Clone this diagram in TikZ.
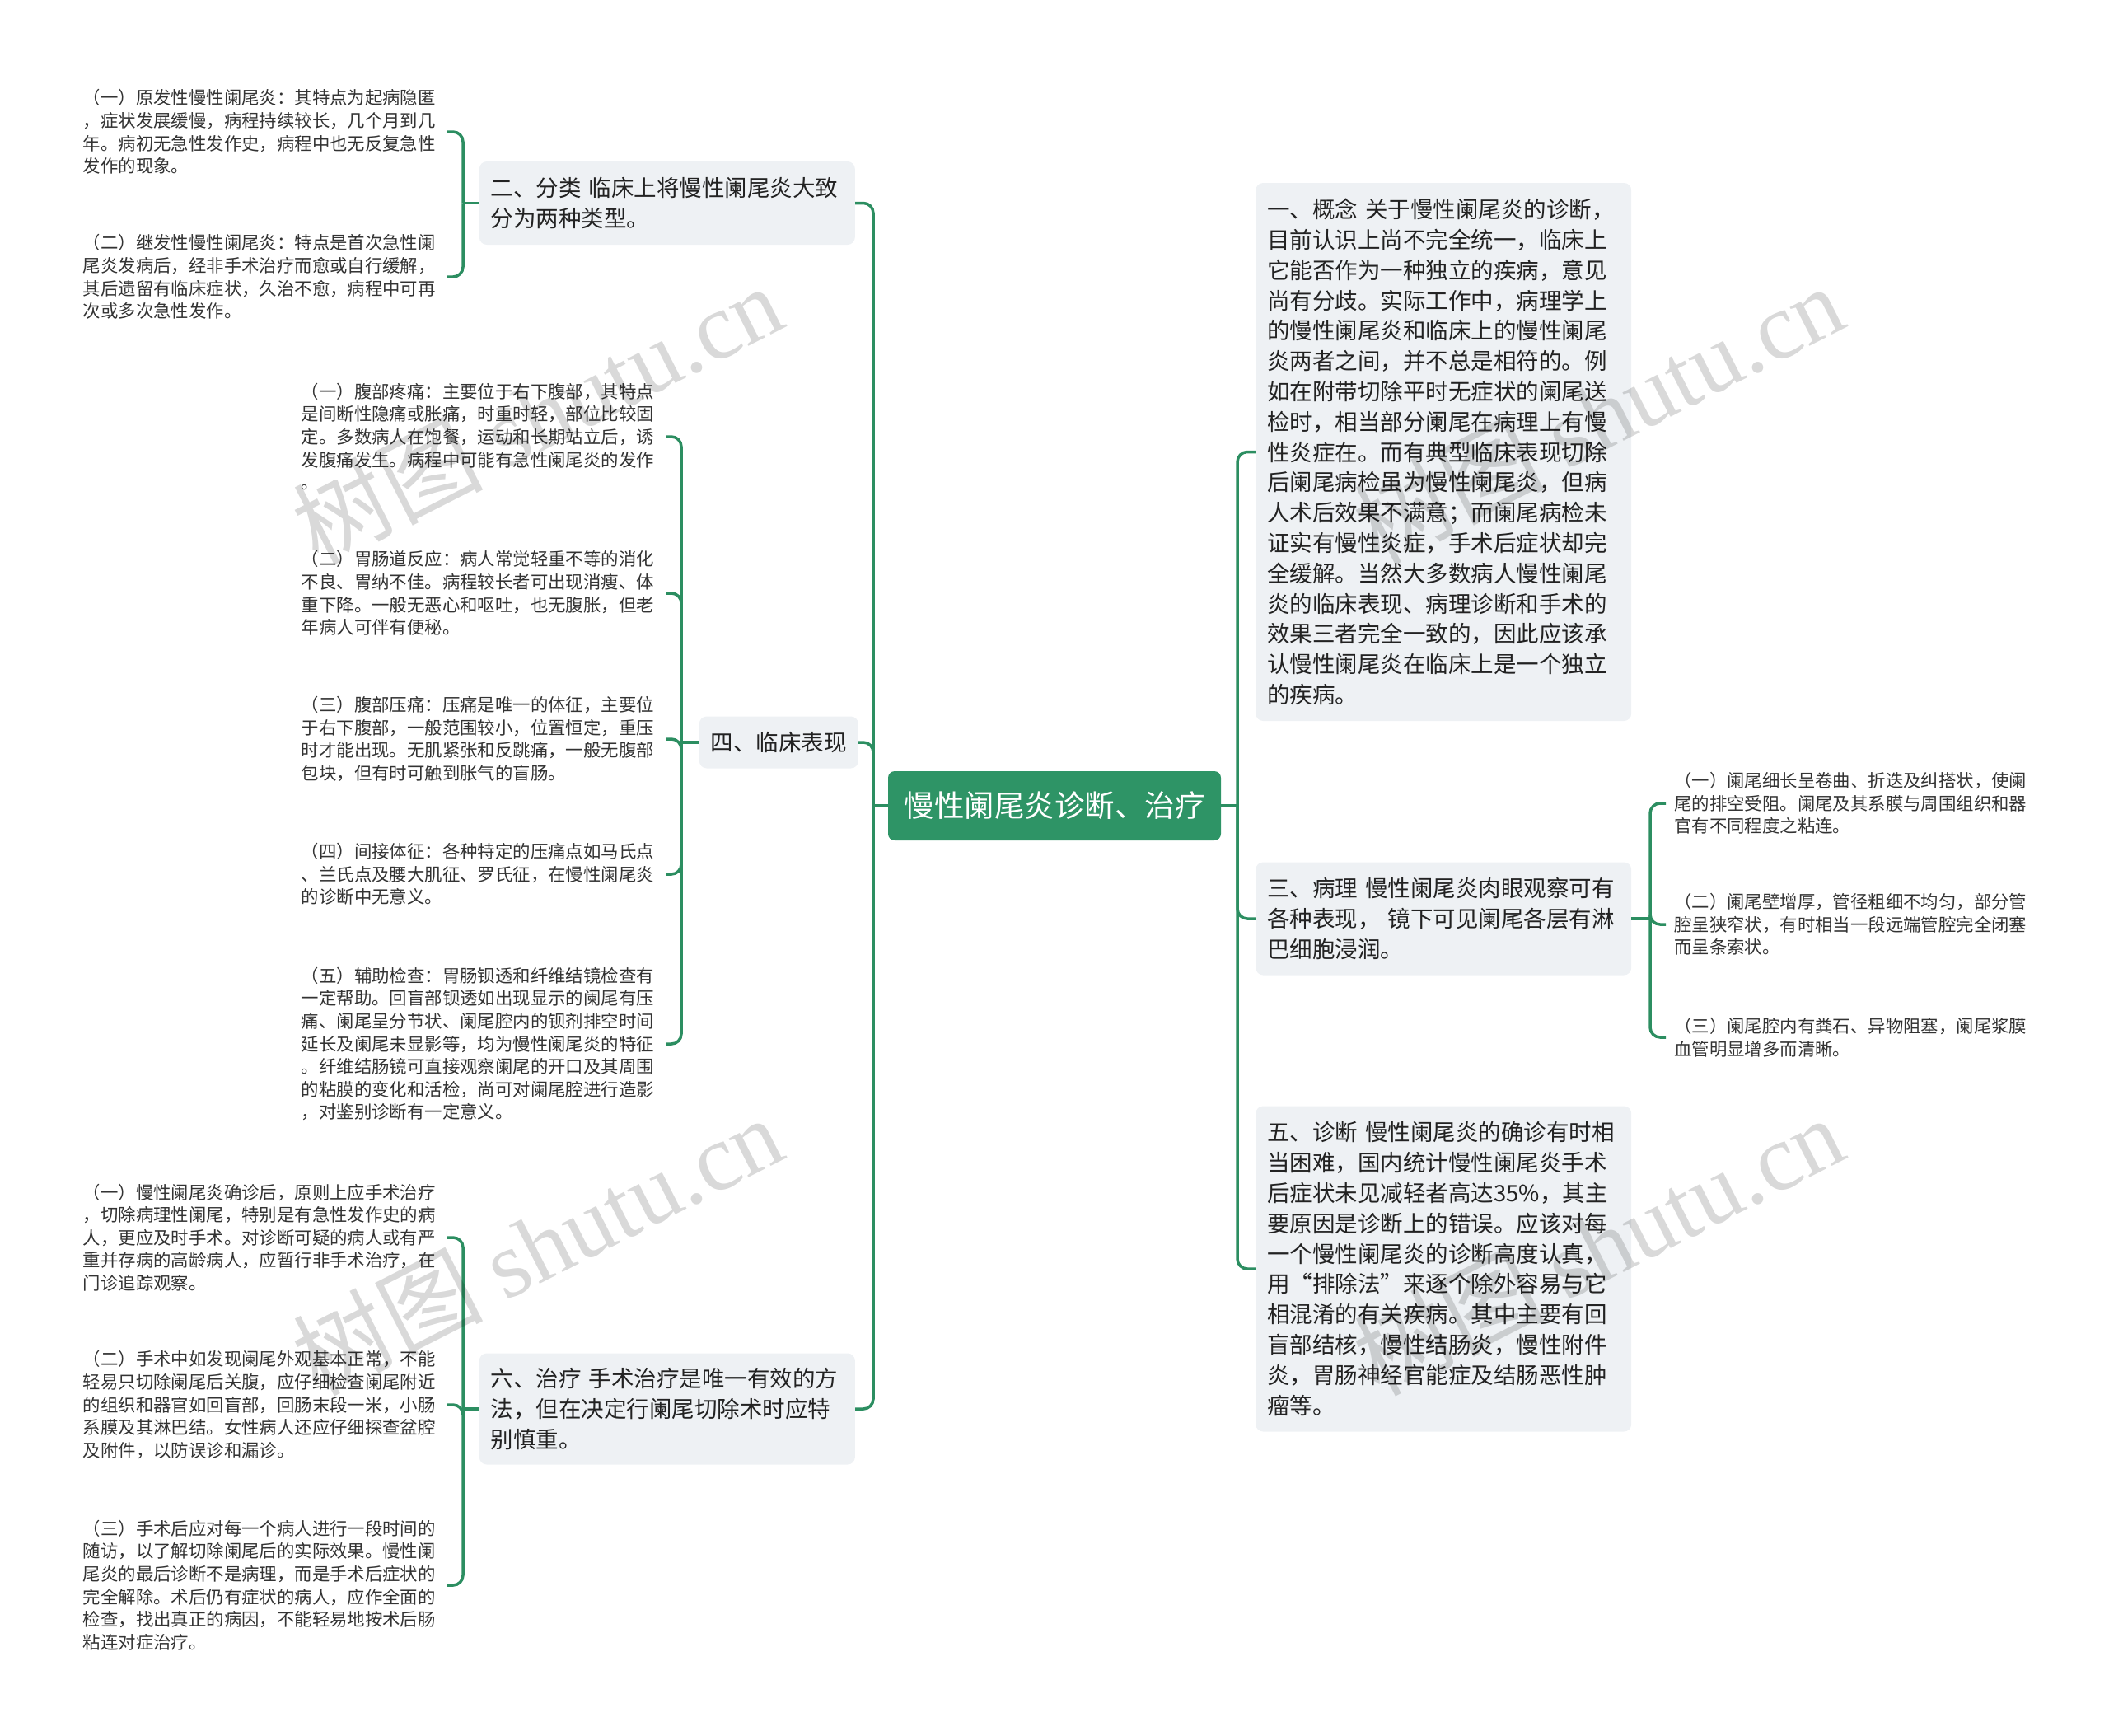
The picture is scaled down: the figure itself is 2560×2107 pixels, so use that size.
\documentclass[tikz,border=0pt]{standalone}
\usepackage{fontspec}
\setmainfont{Noto Sans CJK SC}
\newfontfamily\wmserif{Liberation Serif}
\newfontfamily\wmsans{Noto Sans CJK SC}
\definecolor{linegreen}{RGB}{44,142,97}
\definecolor{rootgreen}{RGB}{46,148,102}
\definecolor{boxgray}{RGB}{238,241,244}
\definecolor{maintext}{RGB}{34,34,34}
\definecolor{leaftext}{RGB}{51,51,51}
\tikzset{
  conn/.style={draw=linegreen, line width=3.5pt, rounded corners=12pt},
  rootbox/.style={fill=rootgreen, rounded corners=8pt, text=white, font=\fontsize{36.5}{44}\selectfont, minimum width=404pt, minimum height=84pt, inner sep=0pt},
  mainbox/.style={fill=boxgray, rounded corners=9pt, text=maintext, font=\fontsize{27.5}{36.8}\selectfont, align=left, inner xsep=14pt, inner ysep=0pt},
  widebox/.style={mainbox, text width=428pt},
  leaf/.style={text=leaftext, font=\fontsize{21.4}{27.6}\selectfont, align=left, text width=432pt, inner xsep=10pt, inner ysep=3pt},
  wmark/.style={text=black, text opacity=0.15, rotate=27, inner sep=0pt},
}
\begin{document}
\begin{tikzpicture}[x=1pt,y=-1pt]
\useasboundingbox (0,0) rectangle (2560,2107);

% root
\node[rootbox] (root) at (1280,978) {慢性阑尾炎诊断、治疗};

% left main nodes
\node[widebox, minimum height=101pt, anchor=east] (b2) at (1038,246.5) {二、分类 临床上将慢性阑尾炎大致\\分为两种类型。};
\node[mainbox, minimum height=63pt, anchor=east] (b4) at (1042,901) {四、临床表现};
\node[widebox, minimum height=135pt, anchor=east] (b6) at (1038,1710) {六、治疗 手术治疗是唯一有效的方\\法，但在决定行阑尾切除术时应特\\别慎重。};

% right main nodes
\node[widebox, minimum height=653pt, anchor=west] (n1) at (1524,548.5) {一、概念 关于慢性阑尾炎的诊断，\\目前认识上尚不完全统一，临床上\\它能否作为一种独立的疾病，意见\\尚有分歧。实际工作中，病理学上\\的慢性阑尾炎和临床上的慢性阑尾\\炎两者之间，并不总是相符的。例\\如在附带切除平时无症状的阑尾送\\检时，相当部分阑尾在病理上有慢\\性炎症在。而有典型临床表现切除\\后阑尾病检虽为慢性阑尾炎，但病\\人术后效果不满意；而阑尾病检未\\证实有慢性炎症，手术后症状却完\\全缓解。当然大多数病人慢性阑尾\\炎的临床表现、病理诊断和手术的\\效果三者完全一致的，因此应该承\\认慢性阑尾炎在临床上是一个独立\\的疾病。};
\node[widebox, minimum height=137pt, anchor=west] (n3) at (1524,1115) {三、病理 慢性阑尾炎肉眼观察可有\\各种表现， 镜下可见阑尾各层有淋\\巴细胞浸润。};
\node[widebox, minimum height=395pt, anchor=west] (n5) at (1524,1540) {五、诊断 慢性阑尾炎的确诊有时相\\当困难，国内统计慢性阑尾炎手术\\后症状未见减轻者高达35\%，其主\\要原因是诊断上的错误。应该对每\\一个慢性阑尾炎的诊断高度认真，\\用“排除法”来逐个除外容易与它\\相混淆的有关疾病。其中主要有回\\盲部结核，慢性结肠炎，慢性附件\\炎，胃肠神经官能症及结肠恶性肿\\瘤等。};

% leaves of b2
\node[leaf, anchor=east] (c21) at (543,160) {（一）原发性慢性阑尾炎：其特点为起病隐匿\\，症状发展缓慢，病程持续较长，几个月到几\\年。病初无急性发作史，病程中也无反复急性\\发作的现象。};
\node[leaf, anchor=east] (c22) at (543,336) {（二）继发性慢性阑尾炎：特点是首次急性阑\\尾炎发病后，经非手术治疗而愈或自行缓解，\\其后遗留有临床症状，久治不愈，病程中可再\\次或多次急性发作。};

% leaves of b4
\node[leaf, anchor=east] (c41) at (808,530) {（一）腹部疼痛：主要位于右下腹部，其特点\\是间断性隐痛或胀痛，时重时轻，部位比较固\\定。多数病人在饱餐，运动和长期站立后，诱\\发腹痛发生。病程中可能有急性阑尾炎的发作\\。};
\node[leaf, anchor=east] (c42) at (808,720) {（二）胃肠道反应：病人常觉轻重不等的消化\\不良、胃纳不佳。病程较长者可出现消瘦、体\\重下降。一般无恶心和呕吐，也无腹胀，但老\\年病人可伴有便秘。};
\node[leaf, anchor=east] (c43) at (808,897) {（三）腹部压痛：压痛是唯一的体征，主要位\\于右下腹部，一般范围较小，位置恒定，重压\\时才能出现。无肌紧张和反跳痛，一般无腹部\\包块，但有时可触到胀气的盲肠。};
\node[leaf, anchor=east] (c44) at (808,1061) {（四）间接体征：各种特定的压痛点如马氏点\\、兰氏点及腰大肌征、罗氏征，在慢性阑尾炎\\的诊断中无意义。};
\node[leaf, anchor=east] (c45) at (808,1267) {（五）辅助检查：胃肠钡透和纤维结镜检查有\\一定帮助。回盲部钡透如出现显示的阑尾有压\\痛、阑尾呈分节状、阑尾腔内的钡剂排空时间\\延长及阑尾未显影等，均为慢性阑尾炎的特征\\。纤维结肠镜可直接观察阑尾的开口及其周围\\的粘膜的变化和活检，尚可对阑尾腔进行造影\\，对鉴别诊断有一定意义。};

% leaves of b6
\node[leaf, anchor=east] (c61) at (543,1502) {（一）慢性阑尾炎确诊后，原则上应手术治疗\\，切除病理性阑尾，特别是有急性发作史的病\\人，更应及时手术。对诊断可疑的病人或有严\\重并存病的高龄病人，应暂行非手术治疗，在\\门诊追踪观察。};
\node[leaf, anchor=east] (c62) at (543,1705) {（二）手术中如发现阑尾外观基本正常，不能\\轻易只切除阑尾后关腹，应仔细检查阑尾附近\\的组织和器官如回盲部，回肠末段一米，小肠\\系膜及其淋巴结。女性病人还应仔细探查盆腔\\及附件，以防误诊和漏诊。};
\node[leaf, anchor=east] (c63) at (543,1924) {（三）手术后应对每一个病人进行一段时间的\\随访，以了解切除阑尾后的实际效果。慢性阑\\尾炎的最后诊断不是病理，而是手术后症状的\\完全解除。术后仍有症状的病人，应作全面的\\检查，找出真正的病因，不能轻易地按术后肠\\粘连对症治疗。};

% leaves of n3
\node[leaf, anchor=west] (c31) at (2022,975) {（一）阑尾细长呈卷曲、折迭及纠搭状，使阑\\尾的排空受阻。阑尾及其系膜与周围组织和器\\官有不同程度之粘连。};
\node[leaf, anchor=west] (c32) at (2022,1122) {（二）阑尾壁增厚，管径粗细不均匀，部分管\\腔呈狭窄状，有时相当一段远端管腔完全闭塞\\而呈条索状。};
\node[leaf, anchor=west] (c33) at (2022,1259) {（三）阑尾腔内有粪石、异物阻塞，阑尾浆膜\\血管明显增多而清晰。};

% trunk junctions
\coordinate (lt) at (1060,978);
\coordinate (rt) at (1502,978);
\coordinate (j2) at (562,246.5);
\coordinate (j4) at (827,901);
\coordinate (j6) at (562,1710);
\coordinate (j3) at (2003,1115);

% root connectors
\draw[conn] (root.west) -- (lt);
\draw[conn] (lt) |- (b2.east);
\draw[conn] (lt) |- (b4.east);
\draw[conn] (lt) |- (b6.east);
\draw[conn] (root.east) -- (rt);
\draw[conn] (rt) |- (n1.west);
\draw[conn] (rt) |- (n3.west);
\draw[conn] (rt) |- (n5.west);

% bracket connectors
\draw[conn] (b2.west) -- (j2);
\draw[conn] (j2) |- (c21.east);
\draw[conn] (j2) |- (c22.east);
\draw[conn] (b4.west) -- (j4);
\draw[conn] (j4) |- (c41.east);
\draw[conn] (j4) |- (c42.east);
\draw[conn] (j4) |- (c43.east);
\draw[conn] (j4) |- (c44.east);
\draw[conn] (j4) |- (c45.east);
\draw[conn] (b6.west) -- (j6);
\draw[conn] (j6) |- (c61.east);
\draw[conn] (j6) |- (c62.east);
\draw[conn] (j6) |- (c63.east);
\draw[conn] (n3.east) -- (j3);
\draw[conn] (j3) |- (c31.west);
\draw[conn] (j3) |- (c32.west);
\draw[conn] (j3) |- (c33.west);

% watermarks
\node[wmark] (w1) at (652,502) {\fontsize{115}{115}\selectfont\wmsans 树图 \wmserif shutu.cn};
\node[wmark] (w2) at (1940,502) {\fontsize{115}{115}\selectfont\wmsans 树图 \wmserif shutu.cn};
\node[wmark] (w3) at (652,1511) {\fontsize{115}{115}\selectfont\wmsans 树图 \wmserif shutu.cn};
\node[wmark] (w4) at (1940,1511) {\fontsize{115}{115}\selectfont\wmsans 树图 \wmserif shutu.cn};
\end{tikzpicture}
\end{document}
